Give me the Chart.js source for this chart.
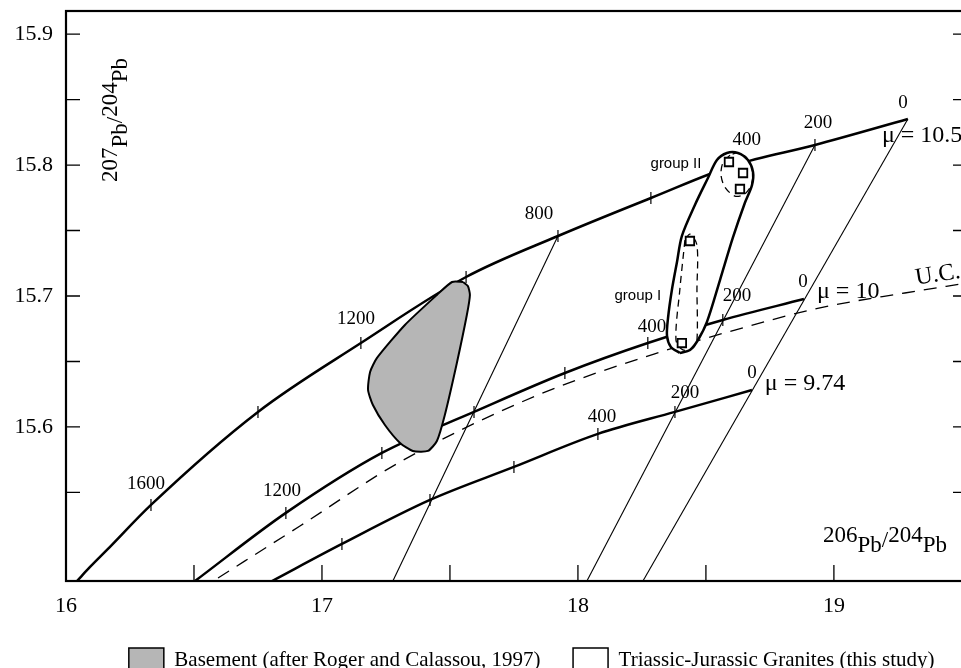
<!DOCTYPE html>
<html>
<head>
<meta charset="utf-8">
<title>Pb isotope diagram</title>
<script src="https://cdn.jsdelivr.net/npm/chart.js@4.4.1/dist/chart.umd.min.js"></script>
<style>
    html, body { margin: 0; padding: 0; overflow: hidden; background: #ffffff; }
    #pb_chart { display: block; }
</style>
</head>
<body>
<canvas id="pb_chart" width="967" height="682"></canvas>
<script>
// axis ticks (206Pb/204Pb on x, 207Pb/204Pb on y)
const xTicks = [16, 16.5, 17, 17.5, 18, 18.5, 19, 19.5];
const xTickLabels = ['16', '', '17', '', '18', '', '19', ''];
const yTicks = [15.55, 15.6, 15.65, 15.7, 15.75, 15.8, 15.85, 15.9];
const yTickLabels = ['', '15.6', '', '15.7', '', '15.8', '', '15.9'];

// growth curves, age (Ma) marked every 200 Ma
const mu105X = [16.043, 16.094, 16.160, 16.332, 16.750, 17.152, 17.563, 17.922, 18.285, 18.613, 18.926, 19.289];
const mu105Y = [15.4824, 15.4931, 15.5061, 15.5405, 15.6115, 15.6641, 15.7145, 15.7458, 15.7748, 15.8000, 15.8153, 15.8351];
const mu105Age = [null, null, null, 1600, 1400, 1200, 1000, 800, 600, 400, 200, 0];

const mu10X = [16.504, 16.859, 17.234, 17.594, 17.949, 18.273, 18.566, 18.883];
const mu10Y = [15.4824, 15.5344, 15.5802, 15.6115, 15.6412, 15.6641, 15.6817, 15.6977];
const mu10Age = [null, 1200, 1000, 800, 600, 400, 200, 0];

const mu974X = [16.805, 17.078, 17.422, 17.750, 18.078, 18.379, 18.680];
const mu974Y = [15.4824, 15.5107, 15.5443, 15.5695, 15.5947, 15.6115, 15.6282];
const mu974Age = [null, 1000, 800, 600, 400, 200, 0];

// upper crust curve
const upperCrustX = [16.594, 16.914, 17.305, 17.844, 18.297, 18.613, 18.941, 19.277, 19.520];
const upperCrustY = [15.4847, 15.5244, 15.5733, 15.6244, 15.6557, 15.6740, 15.6908, 15.7023, 15.7099];

// isochrons (0, 200 and 800 Ma)
const isochronX = [[19.289, 18.254], [18.926, 18.035], [17.922, 17.277]];
const isochronY = [[15.8351, 15.4824], [15.8153, 15.4824], [15.7458, 15.4824]];

// basement field
const basementX = [17.551, 17.508, 17.449, 17.324, 17.215, 17.188, 17.180, 17.199, 17.246, 17.305, 17.355, 17.414, 17.449, 17.480, 17.527, 17.566, 17.578, 17.570, 17.551];
const basementY = [15.7107, 15.7107, 15.7008, 15.6779, 15.6527, 15.6420, 15.6282, 15.6168, 15.6015, 15.5878, 15.5817, 15.5817, 15.5893, 15.6092, 15.6489, 15.6855, 15.7008, 15.7076, 15.7107];

// granite field and the two sub-groups
const graniteX = [18.398, 18.363, 18.348, 18.352, 18.367, 18.387, 18.406, 18.457, 18.508, 18.543, 18.582, 18.625, 18.664, 18.684, 18.680, 18.652, 18.605, 18.555, 18.504, 18.469, 18.438, 18.398];
const graniteY = [15.6565, 15.6611, 15.6695, 15.6832, 15.7046, 15.7260, 15.7458, 15.7695, 15.7901, 15.8038, 15.8092, 15.8092, 15.8038, 15.7947, 15.7847, 15.7710, 15.7443, 15.7122, 15.6802, 15.6664, 15.6588, 15.6565];
const groupIX = [18.418, 18.398, 18.383, 18.410, 18.449, 18.465, 18.465, 18.465, 18.4375, 18.418];
const groupIY = [15.7427, 15.7046, 15.6664, 15.6588, 15.6603, 15.6664, 15.7046, 15.7389, 15.7473, 15.7427];
const groupIIX = [18.594, 18.566, 18.559, 18.574, 18.613, 18.652, 18.680, 18.680, 18.656, 18.625, 18.594];
const groupIIY = [15.8076, 15.8015, 15.7924, 15.7832, 15.7763, 15.7779, 15.7863, 15.7977, 15.8061, 15.8092, 15.8076];

// granite samples
const sampleX = [18.4375, 18.406, 18.590, 18.645, 18.633];
const sampleY = [15.7420, 15.6641, 15.8023, 15.7939, 15.7817];

const SERIF = '"Liberation Serif", "Times New Roman", serif';
const SANS = '"Liberation Sans", Arial, sans-serif';

// text written on the diagram, anchored in data units
const notes = [
    {text: '1600', x: 16.3125, y: 15.5565, font: '19px ' + SERIF},
    {text: '1200', x: 17.133, y: 15.6824, font: '19px ' + SERIF},
    {text: '800', x: 17.848, y: 15.7626, font: '19px ' + SERIF},
    {text: '400', x: 18.660, y: 15.8191, font: '19px ' + SERIF},
    {text: '200', x: 18.9375, y: 15.8321, font: '19px ' + SERIF},
    {text: '0', x: 19.270, y: 15.8473, font: '19px ' + SERIF},
    {text: '1200', x: 16.844, y: 15.5511, font: '19px ' + SERIF},
    {text: '400', x: 18.289, y: 15.6763, font: '19px ' + SERIF},
    {text: '200', x: 18.621, y: 15.7000, font: '19px ' + SERIF},
    {text: '0', x: 18.879, y: 15.7107, font: '19px ' + SERIF},
    {text: '400', x: 18.094, y: 15.6076, font: '19px ' + SERIF},
    {text: '200', x: 18.418, y: 15.6260, font: '19px ' + SERIF},
    {text: '0', x: 18.680, y: 15.6412, font: '19px ' + SERIF},
    {text: 'μ = 10.5', x: 19.1875, y: 15.8221, font: '24px ' + SERIF, align: 'left'},
    {text: 'μ = 10', x: 18.934, y: 15.7031, font: '24px ' + SERIF, align: 'left'},
    {text: 'μ = 9.74', x: 18.730, y: 15.6328, font: '24px ' + SERIF, align: 'left'},
    {text: 'U.C.', x: 19.406, y: 15.716, font: '24px ' + SERIF, angle: -9},
    {text: 'group II', x: 18.383, y: 15.8008, font: '15px ' + SANS},
    {text: 'group I', x: 18.234, y: 15.7000, font: '15px ' + SANS}
];

function xy(xs, ys) {
    return xs.map((v, i) => ({x: v, y: ys[i]}));
}

function ageMarks(xs, ys, ages) {
    return xs.map((v, i) => ({x: v, y: ys[i], age: ages[i]})).filter(p => p.age);
}

function growthCurve(xs, ys) {
    return {
        data: xy(xs, ys), showLine: true, borderColor: '#000', borderWidth: 2.5,
        pointRadius: 0, cubicInterpolationMode: 'monotone', order: 6
    };
}

function growthTicks(xs, ys, ages) {
    return {
        data: ageMarks(xs, ys, ages), showLine: false, pointStyle: 'line', rotation: 90,
        pointRadius: 6, borderColor: '#000', borderWidth: 1.2, order: 6
    };
}

function outline(xs, ys, width, dash) {
    return {
        data: xy(xs, ys), showLine: true, borderColor: '#000', borderWidth: width,
        borderDash: dash, tension: 0.3, pointRadius: 0, order: 2
    };
}

// 207Pb/204Pb style label, mass numbers raised over the element symbol
function drawRatio(ctx, upper, lower, px, py, angle) {
    ctx.save();
    ctx.translate(px, py);
    ctx.rotate(angle);
    ctx.font = '23px ' + SERIF;
    ctx.textAlign = 'left';
    ctx.textBaseline = 'alphabetic';
    let cx = 0;
    [[upper, 0], ['Pb', 10], ['/', 5], [lower, 0], ['Pb', 10]].forEach(([s, dy]) => {
        ctx.fillText(s, cx, dy);
        cx += ctx.measureText(s).width;
    });
    ctx.restore();
}

const frame_plugin = {
    id: 'frame',
    afterDatasetsDraw(chart) {
        const {ctx, chartArea: a, scales: {x, y}} = chart;
        ctx.save();
        ctx.strokeStyle = '#000';
        ctx.lineWidth = 1.3;
        ctx.beginPath();
        yTicks.forEach(v => {
            const py = y.getPixelForValue(v);
            ctx.moveTo(a.left, py);
            ctx.lineTo(a.left + 14, py);
            ctx.moveTo(a.right - 14, py);
            ctx.lineTo(a.right, py);
        });
        xTicks.forEach(v => {
            if (v === x.min) return;
            const px = x.getPixelForValue(v);
            ctx.moveTo(px, a.bottom);
            ctx.lineTo(px, a.bottom - 16);
        });
        ctx.stroke();
        ctx.lineWidth = 2.2;
        ctx.strokeRect(a.left, a.top, a.right - a.left, a.bottom - a.top);
        ctx.restore();
    }
};

const notes_plugin = {
    id: 'notes',
    afterDatasetsDraw(chart) {
        const {ctx, chartArea: a, scales: {x, y}} = chart;
        ctx.save();
        ctx.fillStyle = '#000';
        ctx.textBaseline = 'middle';
        notes.forEach(n => {
            ctx.save();
            ctx.font = n.font;
            ctx.textAlign = n.align || 'center';
            ctx.translate(x.getPixelForValue(n.x), y.getPixelForValue(n.y));
            if (n.angle) ctx.rotate(n.angle * Math.PI / 180);
            ctx.fillText(n.text, 0, 0);
            ctx.restore();
        });
        drawRatio(ctx, '207', '204', a.left + 51, a.top + 171, -Math.PI / 2);
        drawRatio(ctx, '206', '204', a.right - 144, a.bottom - 39, 0);
        ctx.restore();
    }
};

function createPbChart() {
    const canvas = document.getElementById('pb_chart');

    const basement = {
        label: 'Basement (after Roger and Calassou, 1997)',
        data: xy(basementX, basementY), showLine: true, fill: 'shape',
        backgroundColor: '#b6b6b6', borderColor: '#000', borderWidth: 2,
        tension: 0.2, pointRadius: 0, order: 4
    };
    const granites = {
        label: 'Triassic-Jurassic Granites (this study)',
        data: xy(graniteX, graniteY), showLine: true, fill: 'shape',
        backgroundColor: '#ffffff', borderColor: '#000', borderWidth: 2.5,
        tension: 0.3, pointRadius: 0, order: 3
    };

    const datasets = [
        growthCurve(mu105X, mu105Y),
        growthCurve(mu10X, mu10Y),
        growthCurve(mu974X, mu974Y),
        growthTicks(mu105X, mu105Y, mu105Age),
        growthTicks(mu10X, mu10Y, mu10Age),
        growthTicks(mu974X, mu974Y, mu974Age),
        {
            data: xy(upperCrustX, upperCrustY), showLine: true, borderColor: '#000',
            borderWidth: 1.3, borderDash: [13, 9], pointRadius: 0,
            cubicInterpolationMode: 'monotone', order: 7
        },
        ...isochronX.map((xs, i) => ({
            data: xy(xs, isochronY[i]), showLine: true, borderColor: '#000',
            borderWidth: 1.1, pointRadius: 0, order: 7
        })),
        basement,
        granites,
        outline(groupIX, groupIY, 1.3, [7, 5]),
        outline(groupIIX, groupIIY, 1.3, [7, 5]),
        {
            data: xy(sampleX, sampleY), showLine: false, pointStyle: 'rect',
            pointRadius: 6, backgroundColor: '#ffffff', borderColor: '#000',
            borderWidth: 1.8, order: 1
        }
    ];
    const legendSets = [datasets.indexOf(basement), datasets.indexOf(granites)];

    const config = {
        type: 'scatter',
        data: {datasets: datasets},
        options: {
            responsive: false,
            animation: false,
            events: [],
            layout: {autoPadding: false, padding: {top: 11, right: 0, bottom: 0, left: 0}},
            scales: {
                x: {
                    type: 'linear', min: 16, max: 19.52,
                    grid: {display: false, drawTicks: false},
                    border: {display: false},
                    afterBuildTicks: s => { s.ticks = xTicks.map(v => ({value: v})); },
                    afterFit: s => {
                        s.height = 34.5;
                        s.paddingLeft = 0;
                        s.paddingRight = 0;
                    },
                    ticks: {
                        padding: 12, color: '#000', maxRotation: 0, autoSkip: false,
                        font: {family: SERIF, size: 22},
                        callback: (v, i) => xTickLabels[i]
                    }
                },
                y: {
                    type: 'linear', min: 15.4824, max: 15.9176,
                    grid: {display: false, drawTicks: false},
                    border: {display: false},
                    afterBuildTicks: s => { s.ticks = yTicks.map(v => ({value: v})); },
                    afterFit: s => {
                        s.width = 66;
                        s.paddingTop = 0;
                        s.paddingBottom = 0;
                    },
                    ticks: {
                        padding: 13, color: '#000', autoSkip: false,
                        font: {family: SERIF, size: 22},
                        callback: (v, i) => yTickLabels[i]
                    }
                }
            },
            plugins: {
                tooltip: {enabled: false},
                legend: {
                    position: 'bottom',
                    align: 'end',
                    labels: {
                        boxWidth: 35, boxHeight: 24, padding: 32.5, color: '#000',
                        font: {family: SERIF, size: 21},
                        generateLabels: chart => legendSets.map(i => {
                            const ds = chart.data.datasets[i];
                            return {
                                text: ds.label, fillStyle: ds.backgroundColor,
                                strokeStyle: '#000', lineWidth: 1.5, hidden: false, datasetIndex: i
                            };
                        })
                    }
                }
            }
        },
        plugins: [frame_plugin, notes_plugin]
    };

    return new Chart(canvas, config);
}

createPbChart();
</script>
</body>
</html>
